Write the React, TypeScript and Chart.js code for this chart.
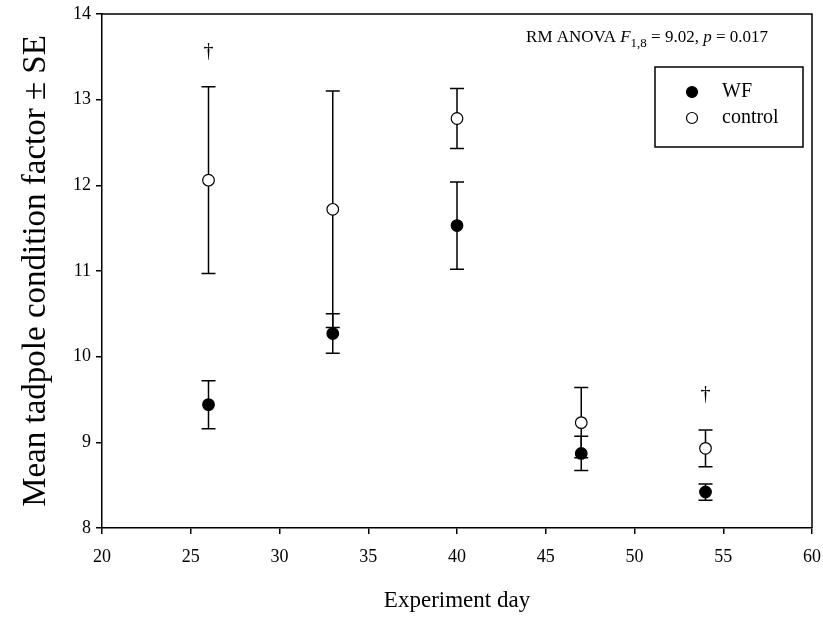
import React, { useEffect, useRef } from "react";
import { Chart, registerables } from "chart.js";

Chart.register(...registerables);

const days = [26, 33, 40, 47, 54];
const wfMean = [9.44, 10.27, 11.53, 8.87, 8.42];
const wfSE = [0.28, 0.23, 0.51, 0.2, 0.095];
const controlMean = [12.06, 11.72, 12.78, 9.23, 8.93];
const controlSE = [1.09, 1.38, 0.35, 0.41, 0.215];
const daggerDays = [26, 54];
const seriesLabels = ["WF", "control"];
const xTicks = [20, 25, 30, 35, 40, 45, 50, 55, 60];
const yTicks = [8, 9, 10, 11, 12, 13, 14];

const FONT = "'Liberation Serif', serif";

const errorBarPlugin = {
  id: "errorBars",
  beforeDatasetsDraw(chart: any) {
    const { ctx, scales } = chart;
    const x = scales.x;
    const y = scales.y;
    ctx.save();
    ctx.strokeStyle = "#000";
    ctx.lineWidth = 1.5;
    const series: [number[], number[]][] = [
      [controlMean, controlSE],
      [wfMean, wfSE],
    ];
    series.forEach(([m, se]) => {
      days.forEach((d, i) => {
        const px = x.getPixelForValue(d);
        const top = y.getPixelForValue(m[i] + se[i]);
        const bot = y.getPixelForValue(m[i] - se[i]);
        ctx.beginPath();
        ctx.moveTo(px, top);
        ctx.lineTo(px, bot);
        ctx.moveTo(px - 7, top);
        ctx.lineTo(px + 7, top);
        ctx.moveTo(px - 7, bot);
        ctx.lineTo(px + 7, bot);
        ctx.stroke();
      });
    });
    ctx.restore();
  },
  afterDraw(chart: any) {
    const { ctx, chartArea, scales } = chart;
    const x = scales.x;
    const y = scales.y;
    ctx.save();
    ctx.strokeStyle = "#000";
    ctx.lineWidth = 1.5;
    // top and right border
    ctx.beginPath();
    ctx.moveTo(chartArea.left, chartArea.top);
    ctx.lineTo(chartArea.right, chartArea.top);
    ctx.lineTo(chartArea.right, chartArea.bottom);
    ctx.stroke();

    // daggers
    ctx.fillStyle = "#000";
    ctx.font = `20px ${FONT}`;
    ctx.textAlign = "center";
    ctx.textBaseline = "middle";
    daggerDays.forEach((d) => {
      const i = days.indexOf(d);
      const px = x.getPixelForValue(d);
      const capY = y.getPixelForValue(controlMean[i] + controlSE[i]);
      ctx.fillText("\u2020", px, capY - 35);
    });

    // annotation
    const parts: [string, string, number][] = [
      ["RM ANOVA ", `17px ${FONT}`, 0],
      ["F", `italic 17px ${FONT}`, 0],
      ["1,8", `13px ${FONT}`, 5],
      [" = 9.02, ", `17px ${FONT}`, 0],
      ["p", `italic 17px ${FONT}`, 0],
      [" = 0.017", `17px ${FONT}`, 0],
    ];
    ctx.textAlign = "left";
    ctx.textBaseline = "alphabetic";
    let total = 0;
    parts.forEach(([t, f]) => {
      ctx.font = f;
      total += ctx.measureText(t).width;
    });
    let tx = chartArea.right - 44 - total;
    const baseY = chartArea.top + 28;
    parts.forEach(([t, f, dy]) => {
      ctx.font = f;
      ctx.fillText(t, tx, baseY + dy);
      tx += ctx.measureText(t).width;
    });

    // legend
    const lx = chartArea.right - 157;
    const ly = chartArea.top + 53;
    ctx.strokeRect(lx, ly, 148, 80);
    ctx.font = `20px ${FONT}`;
    ctx.textBaseline = "middle";
    const rows = [
      { fill: "#000", label: seriesLabels[0], yy: ly + 25 },
      { fill: "#fff", label: seriesLabels[1], yy: ly + 51 },
    ];
    rows.forEach((r) => {
      ctx.beginPath();
      ctx.arc(lx + 37, r.yy, 5.5, 0, Math.PI * 2);
      ctx.fillStyle = r.fill;
      ctx.fill();
      ctx.lineWidth = 1.2;
      ctx.strokeStyle = "#000";
      ctx.stroke();
      ctx.fillStyle = "#000";
      ctx.fillText(r.label, lx + 67, r.yy);
    });
    ctx.restore();
  },
};

export default function App() {
  const ref = useRef<HTMLCanvasElement>(null);
  useEffect(() => {
    document.body.style.margin = "0";
    const canvas = ref.current!;
    const chart = new Chart(canvas, {
      type: "scatter",
      data: {
        datasets: [
          {
            label: seriesLabels[0],
            data: days.map((d, i) => ({ x: d, y: wfMean[i] })),
            pointRadius: 5.8,
            pointBackgroundColor: "#000",
            pointBorderColor: "#000",
            pointBorderWidth: 1.2,
          },
          {
            label: seriesLabels[1],
            data: days.map((d, i) => ({ x: d, y: controlMean[i] })),
            pointRadius: 5.8,
            pointBackgroundColor: "#fff",
            pointBorderColor: "#000",
            pointBorderWidth: 1.2,
          },
        ],
      },
      options: {
        responsive: false,
        animation: false,
        devicePixelRatio: 1,
        layout: { padding: { left: 0, right: 11, top: 14, bottom: 0 } },
        plugins: { legend: { display: false }, tooltip: { enabled: false } },
        scales: {
          x: {
            type: "linear",
            min: 20,
            max: 60,
            afterFit: (s: any) => {
              s.height = 91;
              s.paddingLeft = 0;
              s.paddingRight = 0;
            },
            afterBuildTicks: (s: any) => {
              s.ticks = xTicks.map((v) => ({ value: v }));
            },
            ticks: {
              color: "#000",
              font: { family: FONT, size: 18 },
              padding: 12,
              maxRotation: 0,
            },
            grid: {
              drawOnChartArea: false,
              drawTicks: true,
              tickLength: 6,
              color: "#000",
              lineWidth: 1.5,
            },
            border: { display: true, color: "#000", width: 1.5 },
            title: {
              display: true,
              text: "Experiment day",
              color: "#000",
              font: { family: FONT, size: 23 },
              padding: { top: 0, bottom: 4 },
            },
          },
          y: {
            type: "linear",
            min: 8,
            max: 14,
            afterFit: (s: any) => {
              s.width = 102;
              s.paddingTop = 0;
              s.paddingBottom = 0;
            },
            afterBuildTicks: (s: any) => {
              s.ticks = yTicks.map((v) => ({ value: v }));
            },
            ticks: {
              color: "#000",
              font: { family: FONT, size: 18 },
              padding: 5,
            },
            grid: {
              drawOnChartArea: false,
              drawTicks: true,
              tickLength: 6,
              color: "#000",
              lineWidth: 1.5,
            },
            border: { display: true, color: "#000", width: 1.5 },
            title: {
              display: true,
              text: "Mean tadpole condition factor \u00b1 SE",
              color: "#000",
              font: { family: FONT, size: 33 },
              padding: { top: 17, bottom: 0 },
            },
          },
        },
      },
      plugins: [errorBarPlugin],
    });
    return () => chart.destroy();
  }, []);
  return (
    <div style={{ width: 823, height: 619, background: "#fff" }}>
      <canvas ref={ref} width={823} height={619} />
    </div>
  );
}
